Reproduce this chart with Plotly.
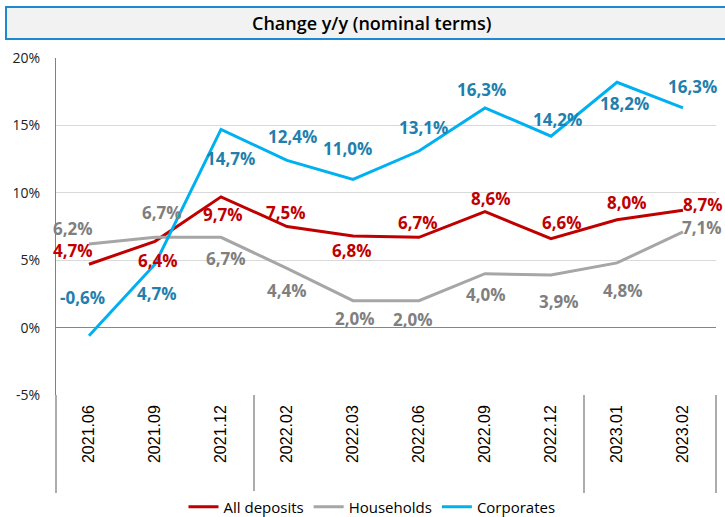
import plotly.graph_objects as go

categories = ["2021.06", "2021.09", "2021.12", "2022.02", "2022.03",
              "2022.06", "2022.09", "2022.12", "2023.01", "2023.02"]
all_deposits = [4.7, 6.4, 9.7, 7.5, 6.8, 6.7, 8.6, 6.6, 8.0, 8.7]
households = [6.2, 6.7, 6.7, 4.4, 2.0, 2.0, 4.0, 3.9, 4.8, 7.1]
corporates = [-0.6, 4.7, 14.7, 12.4, 11.0, 13.1, 16.3, 14.2, 18.2, 16.3]
y_ticks = [-5, 0, 5, 10, 15, 20]
y_tick_labels = ["-5%", "0%", "5%", "10%", "15%", "20%"]
group_breaks = [3, 8]  # category index where a new year group starts

# label offsets in pixels (style only)
red_dx = [-16, 3, 2, -1, -1, -1, 6, 11, 10, 20]
red_dy = [14, -19, -18, 14, -15, 15, 13, 16, 17, 6]
gray_dx = [-16, 7, 5, 0, 2, -6, 1, 8, 6, 19]
gray_dy = [16, 25, -21, -22, -18, -19, -21, -26, -28, 4]
blue_dx = [-7, 2, 9, 5, -6, 4, -4, 6, 7, 9]
blue_dy = [38, -29, -29, 24, 31, 24, 18, 17, -21, 21]

RED, GRAY, BLUE = "#c00000", "#a6a6a6", "#00b0f0"
RED_T, GRAY_T, BLUE_T = "#c00000", "#7f7f7f", "#1f80ad"
FONT = "Open Sans"

fig = go.Figure()
series = [
    ("All deposits", all_deposits, RED, RED_T, red_dx, red_dy),
    ("Households", households, GRAY, GRAY_T, gray_dx, gray_dy),
    ("Corporates", corporates, BLUE, BLUE_T, blue_dx, blue_dy),
]
annotations = []
for name, vals, col, tcol, dx, dy in series:
    fig.add_trace(go.Scatter(x=categories, y=vals, mode="lines", name=name,
                             line=dict(color=col, width=3)))
    for i, (v, sx, sy) in enumerate(zip(vals, dx, dy)):
        annotations.append(dict(
            x=i, y=v, xref="x", yref="y", showarrow=False,
            text=("%.1f" % v).replace(".", ",") + "%",
            xshift=sx, yshift=sy,
            font=dict(family=FONT, size=17, color=tcol, weight="bold")))

W, H = 725, 517
L, R, T, B = 56, 9, 58, 122
pw, ph = W - L - R, H - T - B

def px(xp):
    return (xp - L) / pw

def py(yp):
    return (H - B - yp) / ph

n = len(categories)
shapes = [
    # title box
    dict(type="rect", xref="paper", yref="paper",
         x0=px(6), x1=px(727), y0=py(39), y1=py(7),
         fillcolor="#f2f2f2", line=dict(color="#1b8ad3", width=2), layer="below"),
    # axis extension lines in category area
    dict(type="line", xref="paper", yref="paper", x0=0, x1=0, y0=0, y1=py(493),
         line=dict(color="#808080", width=1.3)),
    dict(type="line", xref="paper", yref="paper", x0=1, x1=1, y0=0, y1=py(493),
         line=dict(color="#808080", width=1.3)),
]
for gb in group_breaks:
    shapes.append(dict(type="line", xref="paper", yref="paper",
                       x0=gb / n, x1=gb / n, y0=0, y1=py(493),
                       line=dict(color="#808080", width=1.3)))

annotations.append(dict(
    x=px(372), y=py(23), xref="paper", yref="paper", showarrow=False,
    xanchor="center", yanchor="middle",
    text="Change y/y (nominal terms)",
    font=dict(family=FONT, size=18, color="#000000", weight=600)))

fig.update_layout(
    width=W, height=H,
    margin=dict(l=L, r=R, t=T, b=B, autoexpand=False),
    plot_bgcolor="white", paper_bgcolor="white",
    showlegend=True,
    legend=dict(orientation="h", x=px(372), xanchor="center",
                y=py(507), yanchor="middle",
                font=dict(family=FONT, size=15, color="#000"),
                tracegroupgap=0),
    shapes=shapes, annotations=annotations,
    xaxis=dict(type="category", range=[-0.5, n - 0.5], showgrid=False,
               tickangle=-90, tickfont=dict(family="Liberation Sans", size=16, color="#000"),
               ticks="", showline=False, zeroline=False, fixedrange=True,
               automargin=False, ticklabelstandoff=6),
    yaxis=dict(range=[-5, 20], tickvals=y_ticks, ticktext=y_tick_labels,
               showgrid=True, gridcolor="#d9d9d9", gridwidth=1,
               zeroline=True, zerolinecolor="#868686", zerolinewidth=1.3,
               showline=True, linecolor="#808080", linewidth=1.3,
               ticks="", ticklabelstandoff=12, automargin=False,
               tickfont=dict(family=FONT, size=14, color="#222")),
)

fig.write_html("out.html", config={"displayModeBar": False},
               post_script="document.body.style.margin='0';")
